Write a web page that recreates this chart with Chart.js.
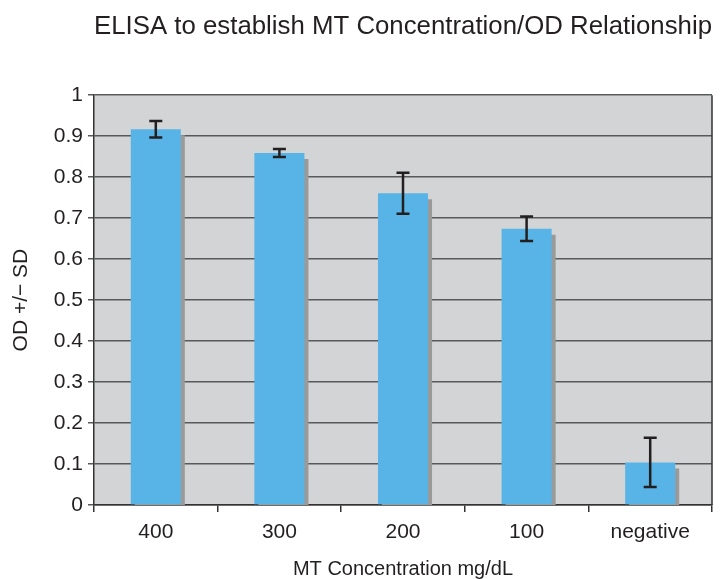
<!DOCTYPE html>
<html>
<head>
<meta charset="utf-8">
<script src="https://cdn.jsdelivr.net/npm/chart.js@4.4.0/dist/chart.umd.min.js"></script>
<style>
  html, body { margin: 0; padding: 0; background: #fff; }
  #wrap { width: 722px; height: 579px; }
</style>
</head>
<body>
<div id="wrap"><canvas id="elisa" width="722" height="579"></canvas></div>
<script>
// values
const categories = ['400', '300', '200', '100', 'negative'];
const odMeans = [0.917, 0.859, 0.761, 0.674, 0.104];
const odSD = [0.02, 0.01, 0.05, 0.03, 0.06];
const yTicks = [0, 0.1, 0.2, 0.3, 0.4, 0.5, 0.6, 0.7, 0.8, 0.9, 1];

const FONT = "'Liberation Sans', Arial, sans-serif";
const INK = '#231f20';
const GRID = '#58595b';

// gray plot panel + right frame line
const plotPanel = {
  id: 'plotPanel',
  beforeDraw(chart) {
    const { ctx, chartArea: a } = chart;
    ctx.save();
    ctx.fillStyle = '#d3d4d6';
    ctx.fillRect(a.left, a.top, a.right - a.left, a.bottom - a.top);
    ctx.restore();
  },
  afterDraw(chart) {
    const { ctx, chartArea: a } = chart;
    ctx.save();
    ctx.strokeStyle = '#333';
    ctx.lineWidth = 1.5;
    ctx.beginPath();
    ctx.moveTo(a.right, a.top);
    ctx.lineTo(a.right, a.bottom);
    ctx.stroke();
    ctx.restore();
  },
};

// flat drop shadow behind the bars
const barShadow = {
  id: 'barShadow',
  beforeDatasetsDraw(chart) {
    const ctx = chart.ctx;
    ctx.save();
    ctx.shadowColor = '#9a9a9a';
    ctx.shadowOffsetX = 4;
    ctx.shadowOffsetY = 6;
    ctx.shadowBlur = 0;
  },
  afterDatasetsDraw(chart) {
    chart.ctx.restore();
  },
};

// +/- SD whiskers
const errorBars = {
  id: 'errorBars',
  afterDatasetsDraw(chart) {
    const { ctx, scales: { y } } = chart;
    const meta = chart.getDatasetMeta(0);
    ctx.save();
    ctx.strokeStyle = INK;
    ctx.lineWidth = 2.5;
    meta.data.forEach((bar, i) => {
      const top = y.getPixelForValue(odMeans[i] + odSD[i]);
      const bot = y.getPixelForValue(odMeans[i] - odSD[i]);
      const x = bar.x;
      ctx.beginPath();
      ctx.moveTo(x, top); ctx.lineTo(x, bot);
      ctx.moveTo(x - 6.5, top); ctx.lineTo(x + 6.5, top);
      ctx.moveTo(x - 6.5, bot); ctx.lineTo(x + 6.5, bot);
      ctx.stroke();
    });
    ctx.restore();
  },
};

new Chart(document.getElementById('elisa'), {
  type: 'bar',
  data: {
    labels: categories,
    datasets: [{
      data: odMeans,
      backgroundColor: '#58b4e6',
      borderWidth: 0,
      categoryPercentage: 1,
      barPercentage: 0.405,
    }],
  },
  options: {
    responsive: false,
    animation: false,
    devicePixelRatio: 1,
    layout: { padding: { top: 0, right: 10, bottom: 0, left: 0 } },
    plugins: {
      legend: { display: false },
      tooltip: { enabled: false },
      title: {
        display: true,
        fullSize: false,
        text: 'ELISA to establish MT Concentration/OD Relationship',
        color: INK,
        font: { family: FONT, size: 26, weight: 'normal' },
        padding: { top: 11, bottom: 53 },
      },
    },
    scales: {
      x: {
        afterFit(s) { s.height = 74; },
        grid: { offset: true, drawOnChartArea: false, tickLength: 7, color: '#333', lineWidth: 1.5 },
        border: { color: '#333', width: 1.5 },
        ticks: { color: INK, font: { family: FONT, size: 21 }, padding: 8, maxRotation: 0 },
        title: {
          display: true,
          text: 'MT Concentration mg/dL',
          color: INK,
          font: { family: FONT, size: 20, lineHeight: 1 },
          padding: { top: 0, bottom: 0 },
        },
      },
      y: {
        min: 0,
        max: 1,
        afterFit(s) { s.width = 94; },
        afterBuildTicks(s) { s.ticks = yTicks.map(v => ({ value: v })); },
        grid: { color: GRID, lineWidth: 1.5, tickLength: 6 },
        border: { color: '#333', width: 1.5 },
        ticks: {
          color: INK,
          font: { family: FONT, size: 21 },
          padding: 5,
          callback: v => String(Math.round(v * 10) / 10),
        },
        title: {
          display: true,
          text: 'OD +/\u2212 SD',
          color: INK,
          font: { family: FONT, size: 21 },
          padding: { top: 9, bottom: 0 },
        },
      },
    },
  },
  plugins: [plotPanel, barShadow, errorBars],
});
</script>
</body>
</html>
